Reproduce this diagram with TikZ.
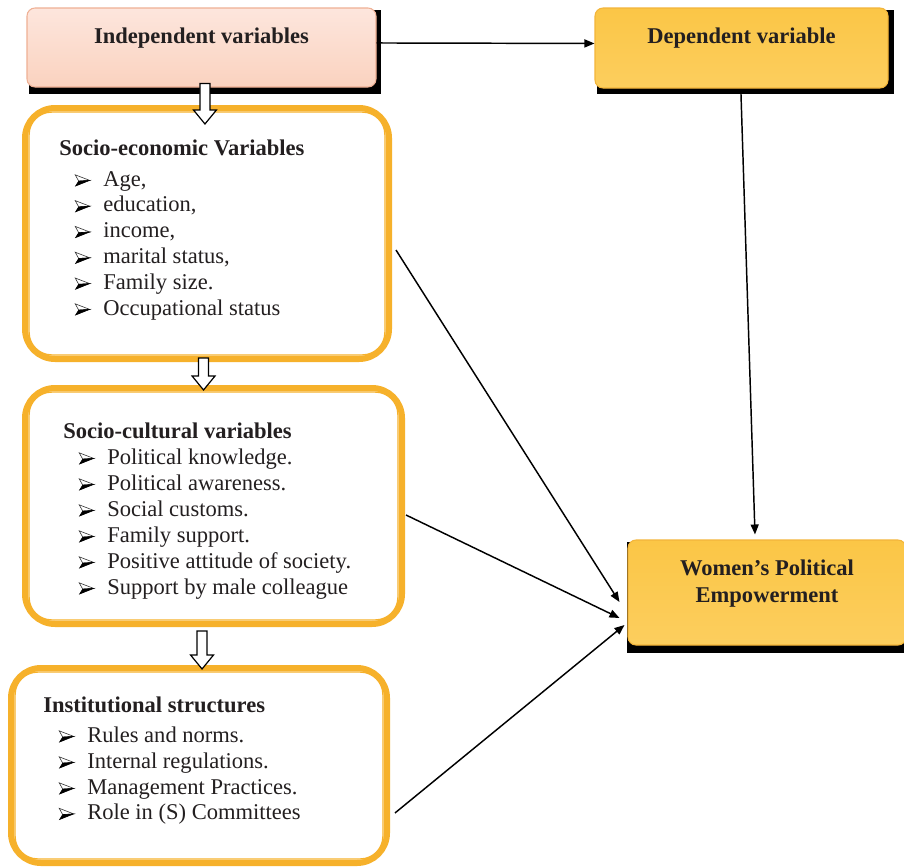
\documentclass[tikz,border=0pt]{standalone}
\usepackage{fontspec}
\setmainfont{Liberation Serif}
\usetikzlibrary{calc,arrows.meta,backgrounds}
\definecolor{boxor}{HTML}{F6B12B}
\definecolor{dtop}{HTML}{FBC646}
\definecolor{dmid}{HTML}{F6B11E}
\definecolor{dbot}{HTML}{FCCE5E}
\definecolor{dline}{HTML}{F3B53A}
\definecolor{itop}{HTML}{FDE6DD}
\definecolor{imid}{HTML}{F6BA9D}
\definecolor{ibot}{HTML}{FAD2BF}
\definecolor{iline}{HTML}{EFB094}
\definecolor{ink}{HTML}{231F20}
\newcommand\itemrow[4]{%
  \node[itm] (#1) at (#2+28,#3) {#4};
  \pic at (#2,#3) {bulletpic};}
\newcommand\blockarr[2]{%
  \draw[hollowarrow] let \p1=#1, \p2=#2 in
    (\x1-3.75pt,\y1) -- (\x1+3.75pt,\y1) -- (\x1+3.75pt,\y2+10.5pt)
    -- (\x1+8.6pt,\y2+10.5pt) -- (\x1,\y2) -- (\x1-8.6pt,\y2+10.5pt)
    -- (\x1-3.75pt,\y2+10.5pt) -- cycle;}
\begin{document}
\begin{tikzpicture}[x=0.75pt,y=-0.75pt,
  every node/.style={font=\fontsize{16.9pt}{20.25pt}\selectfont, text=ink},
  topbox/.style={rounded corners=6pt, line width=0.8pt, inner sep=0pt, align=center, font=\fontsize{16.9pt}{20.25pt}\selectfont\bfseries},
  indepbox/.style={topbox, draw=iline, top color=itop, middle color=imid, bottom color=ibot},
  depbox/.style={topbox, draw=dline, top color=dtop, middle color=dmid, bottom color=dbot},
  orbox/.style={draw=boxor, line width=4.5pt, rounded corners=22.5pt, fill=white, inner sep=0pt},
  innerline/.style={draw=boxor, line width=1.1pt, rounded corners=17pt},
  head/.style={anchor=base west, inner sep=0pt, font=\fontsize{16.9pt}{20.25pt}\selectfont\bfseries},
  itm/.style={anchor=base west, inner sep=0pt},
  conn/.style={draw=black, line width=1.1pt, -{Triangle[length=7.5pt,width=6pt]}},
  hollowarrow/.style={draw=black, line width=0.9pt, fill=white, line join=miter},
  bulletpic/.pic={
    \filldraw[draw=black!80,fill=white,line width=0.45pt,line join=miter] (0.2,-11.2)--(14.7,-5.6)--(3.7,-4.9)--cycle;
    \filldraw[draw=black,fill=black,line width=0.45pt,line join=miter] (0.6,0)--(14.7,-5.6)--(3.7,-4.9)--cycle;}
]
\useasboundingbox (0,0) rectangle (904,868);

% top boxes
\node[indepbox, minimum width=261.75pt, text height=26.25pt, text depth=33pt] (indep) at (201.5,47.5) {Independent variables};
\node[depbox, minimum width=219.75pt, text height=26.25pt, text depth=33.75pt] (dep) at (741.5,48) {Dependent variable};
\node[depbox, minimum width=208.5pt, text height=46.5pt, text depth=32.25pt] (wpe) at (767,592.5)
  {\parbox[b]{200pt}{\centering\bfseries Women's Political\\Empowerment}};

% orange boxes
\node[orbox, minimum width=273pt, minimum height=188.25pt] (se) at (207,233.5) {};
\node[orbox, minimum width=282.75pt, minimum height=177pt] (sc) at (213.5,506) {};
\node[orbox, minimum width=282pt, minimum height=146.25pt] (inst) at (199,765.5) {};
\draw[innerline] ($(se.north west)+(7,7)$) rectangle ($(se.south east)+(-7,-7)$);
\draw[innerline] ($(sc.north west)+(7,7)$) rectangle ($(sc.south east)+(-7,-7)$);
\draw[innerline] ($(inst.north west)+(7,7)$) rectangle ($(inst.south east)+(-7,-7)$);

% shadows and background
\begin{scope}[on background layer]
  \fill[white] (0,0) rectangle (904,868);
  \fill[black] ($(indep.north east)+(4,3)$) rectangle ($(indep.south west)+(3,6)$);
  \fill[black] ($(dep.north east)+(5,3)$) rectangle ($(dep.south west)+(3,5)$);
  \fill[black] ($(wpe.north east)+(5,3)$) rectangle ($(wpe.south west)+(0,7)$);
\end{scope}

% texts: socio-economic
\node[head] (seh) at (59,155) {Socio-economic Variables};
\itemrow{se1}{75}{186}{Age,}
\itemrow{se2}{75}{211.8}{education,}
\itemrow{se3}{75}{237.6}{income,}
\itemrow{se4}{75}{263.4}{marital status,}
\itemrow{se5}{75}{289.2}{Family size.}
\itemrow{se6}{75}{315}{Occupational status}

% socio-cultural
\node[head] (sch) at (63,438) {Socio-cultural variables};
\itemrow{sc1}{79}{464}{Political knowledge.}
\itemrow{sc2}{79}{490}{Political awareness.}
\itemrow{sc3}{79}{516}{Social customs.}
\itemrow{sc4}{79}{542}{Family support.}
\itemrow{sc5}{79}{568}{Positive attitude of society.}
\itemrow{sc6}{79}{594}{Support by male colleague}

% institutional
\node[head] (insth) at (43,712) {Institutional structures};
\itemrow{inst1}{59}{742}{Rules and norms.}
\itemrow{inst2}{59}{768}{Internal regulations.}
\itemrow{inst3}{59}{794}{Management Practices.}
\itemrow{inst4}{59}{819.5}{Role in (S) Committees}

% connectors
\draw[conn] ([yshift=3.4pt]indep.east) -- ([yshift=3.4pt]dep.west);
\draw[conn] ([xshift=-0.4pt,yshift=-3.75pt]dep.south) -- ([xshift=-9pt,yshift=3.75pt]wpe.north);
\draw[conn] ([xshift=3pt,yshift=-12.4pt]se.east) -- ([xshift=-6pt,yshift=-7.1pt]wpe.west);
\draw[conn] ([xshift=0.75pt,yshift=-6.75pt]sc.east) -- ([xshift=-6pt,yshift=-19.1pt]wpe.west);
\draw[conn] ([xshift=3.75pt,yshift=-35.6pt]inst.east) -- ([xshift=-2.25pt,yshift=-24.4pt]wpe.west);

% hollow block arrows
\blockarr{([xshift=2.6pt,yshift=3pt]indep.south)}{([yshift=-14.25pt]se.north)}
\blockarr{([xshift=-2.6pt,yshift=3pt]se.south)}{([yshift=-3.75pt]sc.north)}
\blockarr{([xshift=-8.6pt,yshift=-3pt]sc.south)}{([yshift=-3pt]inst.north)}
\end{tikzpicture}
\end{document}
